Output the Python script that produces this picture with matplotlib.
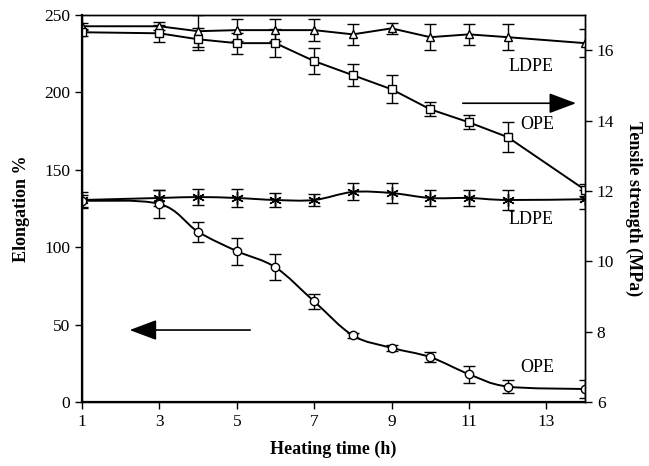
import matplotlib.pyplot as plt
import numpy as np
from matplotlib.path import Path
from matplotlib.patches import PathPatch

plt.rcParams['font.family'] = ['Liberation Serif', 'DejaVu Serif']

hours = [1, 3, 4, 5, 6, 7, 8, 9, 10, 11, 12, 14]

# elongation (%), left axis
elong_ldpe = [130.5, 131.8, 132.4, 131.8, 130.5, 130.5, 135.7, 135.0, 131.8, 131.8, 130.5, 131.0]
elong_ldpe_err = [5.2, 5, 5, 6, 4.5, 4, 5.5, 6.5, 5, 5, 6.5, 6]
elong_ope = [130, 128, 110, 97.5, 87, 65, 43, 35, 29, 18, 10, 8.4]
elong_ope_err = [4, 9, 6.5, 8.7, 8.4, 5, 1.5, 2, 3, 5.5, 4, 6]

# tensile strength (MPa), right axis
ts_ldpe = [16.68, 16.68, 16.54, 16.57, 16.57, 16.57, 16.45, 16.62, 16.37, 16.45, 16.37, 16.20]
ts_ldpe_err = [0.1, 0.12, 0.45, 0.31, 0.31, 0.31, 0.3, 0.15, 0.37, 0.3, 0.37, 0.4]
ts_ope = [16.51, 16.48, 16.31, 16.20, 16.20, 15.69, 15.29, 14.89, 14.32, 13.95, 13.53, 12.03]
ts_ope_err = [0.1, 0.25, 0.31, 0.3, 0.4, 0.37, 0.31, 0.4, 0.2, 0.2, 0.43, 0.17]


def smooth_path(x, y):
    # Catmull-Rom curve through the points, as cubic Bezier segments
    x = np.asarray(x, float)
    y = np.asarray(y, float)
    pts = np.column_stack([x, y])
    verts = [pts[0]]
    codes = [Path.MOVETO]
    n = len(pts)
    for i in range(n - 1):
        p0 = pts[max(i - 1, 0)]
        p1 = pts[i]
        p2 = pts[i + 1]
        p3 = pts[min(i + 2, n - 1)]
        c1 = p1 + (p2 - p0) / 6.0
        c2 = p2 - (p3 - p1) / 6.0
        verts += [c1, c2, p2]
        codes += [Path.CURVE4] * 3
    return Path(verts, codes)


fig = plt.figure(figsize=(6.49, 4.66), dpi=100)
ax = fig.add_axes([0.1263, 0.1373, 0.7751, 0.8305])
ax2 = ax.twinx()

mk = dict(color='black', mfc='white', mec='black', ms=6, mew=1.0)
eb = dict(fmt='none', ecolor='black', elinewidth=1.0, capsize=4.5, capthick=1.0)

# elongation curves (smoothed lines)
for y in (elong_ldpe, elong_ope):
    ax.add_patch(PathPatch(smooth_path(hours, y), fill=False, lw=1.4, ec='black'))
ax.errorbar(hours, elong_ldpe, yerr=elong_ldpe_err, **eb)
ax.errorbar(hours, elong_ope, yerr=elong_ope_err, **eb)
ax.plot(hours, elong_ldpe, ls='none', marker=(6, 2, 0), color='black', ms=9, mew=1.0)
ax.plot(hours, elong_ope, ls='none', marker='o', **mk)

# tensile strength curves
ax2.errorbar(hours, ts_ldpe, yerr=ts_ldpe_err, **eb)
ax2.errorbar(hours, ts_ope, yerr=ts_ope_err, **eb)
ax2.plot(hours, ts_ldpe, lw=1.4, marker='^', **mk)
ax2.plot(hours, ts_ope, lw=1.4, marker='s', **mk)

ax.set_xlim(1, 14)
ax.set_ylim(0, 250)
ax2.set_ylim(6, 17)
ax.set_xticks([1, 3, 5, 7, 9, 11, 13])
ax.set_yticks([0, 50, 100, 150, 200, 250])
ax2.set_yticks([6, 8, 10, 12, 14, 16])

for a in (ax, ax2):
    a.tick_params(direction='out', length=5, width=1.0, labelsize=12.5)
    for s in a.spines.values():
        s.set_linewidth(1.0)
ax.spines['left'].set_linewidth(1.6)
ax.spines['bottom'].set_linewidth(1.6)

ax.set_xlabel('Heating time (h)', fontsize=13, fontweight='bold', labelpad=8)
ax.set_ylabel('Elongation %', fontsize=13, fontweight='bold', labelpad=10)
ax2.set_ylabel('Tensile strength (MPa)', fontsize=13, fontweight='bold',
               rotation=270, labelpad=20)

# series labels
ax.text(12.6, 217, 'LDPE', fontsize=13, ha='center', va='center')
ax.text(12.76, 179, 'OPE', fontsize=13, ha='center', va='center')
ax.text(12.6, 117.6, 'LDPE', fontsize=13, ha='center', va='center')
ax.text(12.76, 22.6, 'OPE', fontsize=13, ha='center', va='center')

# arrows pointing to the relevant axis
arrow = dict(arrowstyle='-|>,head_length=1.2,head_width=0.45', color='black',
             lw=1.2, mutation_scale=14)
ax.annotate('', xy=(13.84, 193), xytext=(10.77, 193), arrowprops=arrow)
ax.annotate('', xy=(2.16, 46.5), xytext=(5.42, 46.5), arrowprops=arrow)

fig.savefig('out.png', dpi=100)
